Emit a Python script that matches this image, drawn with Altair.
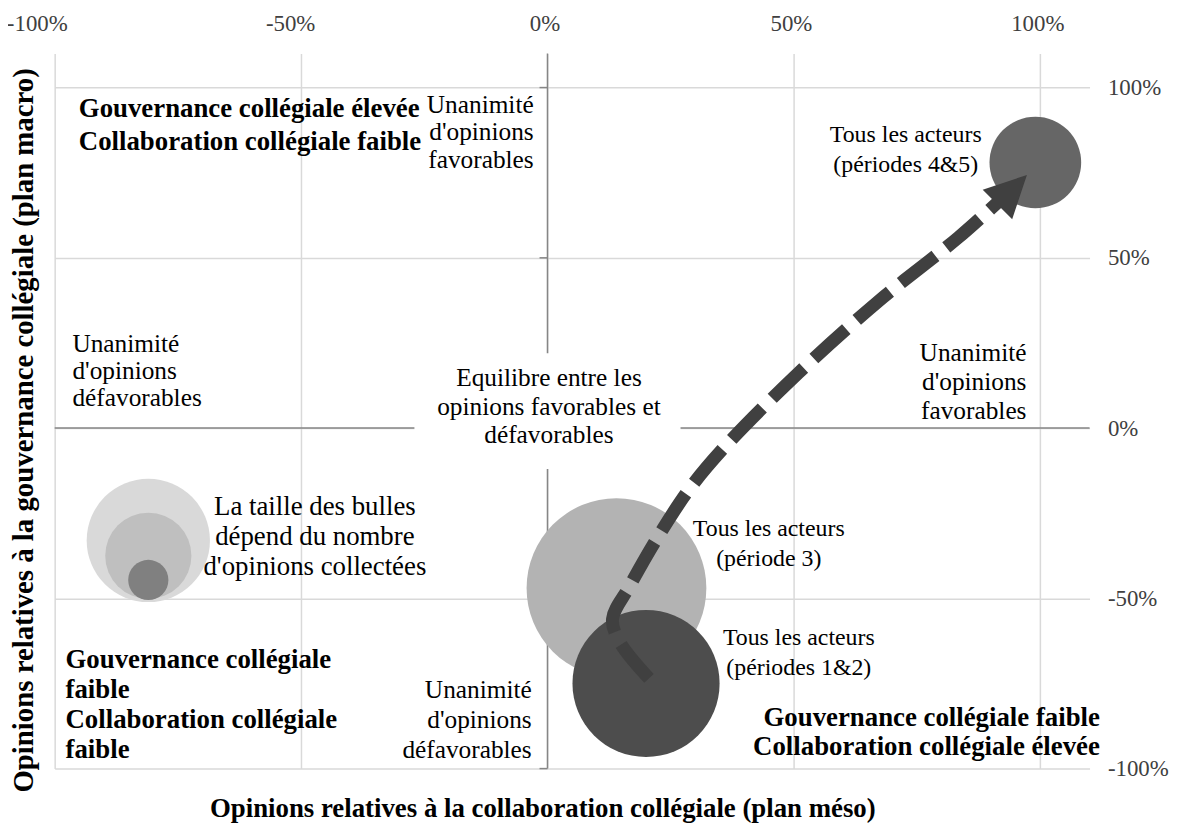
import altair as alt
import pandas as pd

FONT = "Liberation Serif, Times New Roman, Tinos, DejaVu Serif, serif"

# ---------------- data ----------------
x_domain = [-1.0, 1.1]
y_domain = [-1.0, 1.1]
x_ticks = [-1.0, -0.5, 0.0, 0.5, 1.0]
y_ticks = [-1.0, -0.5, 0.0, 0.5, 1.0]

# bubbles: x = collaboration (méso), y = gouvernance (macro), n = nombre relatif d'opinions
bubble_group = ["période 3", "périodes 1&2", "périodes 4&5"]
bubble_x = [0.14, 0.20, 0.99]
bubble_y = [-0.47, -0.75, 0.78]
bubble_n = [100, 67, 26]

# size-legend bubbles
legend_group = ["légende grande", "légende moyenne", "légende petite"]
legend_x = [-0.81, -0.81, -0.81]
legend_y = [-0.33, -0.375, -0.446]
legend_n = [47, 23, 5]

group_colors = ["#b3b3b3", "#4d4d4d", "#666666", "#d9d9d9", "#bfbfbf", "#808080"]

# dashed trajectory arrow
arrow_x = [0.206, 0.146, 0.132, 0.166, 0.221, 0.287, 0.354, 0.510, 0.672, 0.834, 0.915]
arrow_y = [-0.735, -0.627, -0.560, -0.466, -0.327, -0.181, -0.064, 0.163, 0.373, 0.560, 0.665]
head_x = [0.943]
head_y = [0.700]

# white box behind the central annotation [x1, x2, y1, y2]
box_bounds = [-0.27, 0.27, -0.12, 0.22]

# annotations (y = centre of the first line)
tl_text = ["Gouvernance collégiale élevée\nCollaboration collégiale faible"]
tl_x, tl_y = [-0.951], [0.936]

bl_text = ["Gouvernance collégiale\nfaible\nCollaboration collégiale\nfaible"]
bl_x, bl_y = [-0.978], [-0.682]

br_text = ["Gouvernance collégiale faible\nCollaboration collégiale élevée"]
br_x, br_y = [1.121], [-0.851]

fav_top_text = ["Unanimité\nd'opinions\nfavorables"]
fav_top_x, fav_top_y = [-0.028], [0.950]

fav_right_text = ["Unanimité\nd'opinions\nfavorables"]
fav_right_x, fav_right_y = [0.972], [0.219]

defav_left_text = ["Unanimité\nd'opinions\ndéfavorables"]
defav_left_x, defav_left_y = [-0.964], [0.248]

defav_bottom_text = ["Unanimité\nd'opinions\ndéfavorables"]
defav_bottom_x, defav_bottom_y = [-0.032], [-0.770]

equil_text = ["Equilibre entre les\nopinions favorables et\ndéfavorables"]
equil_x, equil_y = [0.003], [0.146]

size_note_text = ["La taille des bulles\ndépend du nombre\nd'opinions collectées"]
size_note_x, size_note_y = [-0.472], [-0.233]

actor_text = ["Tous les acteurs\n(période 3)", "Tous les acteurs\n(périodes 1&2)",
              "Tous les acteurs\n(périodes 4&5)"]
actor_x = [0.449, 0.510, 0.727]
actor_y = [-0.297, -0.618, 0.860]

x_title = "Opinions relatives à la collaboration collégiale (plan méso)"
y_title = "Opinions relatives à la gouvernance collégiale (plan macro)"

# ---------------- chart ----------------
xs = alt.Scale(domain=x_domain, nice=False, zero=False)
ys = alt.Scale(domain=y_domain, nice=False, zero=False)
size_scale = alt.Scale(domain=[0, 100], range=[0, 32761])
color_scale = alt.Scale(domain=bubble_group + legend_group, range=group_colors)
label_expr = "round(datum.value * 100) + '%'"

one = pd.DataFrame({"k": [0]})

vzero = alt.Chart(one).mark_rule(color="#868686", strokeWidth=1.5).encode(
    x=alt.XDatum(0, axis=None, scale=xs))
hzero = alt.Chart(one).mark_rule(color="#868686", strokeWidth=1.5).encode(
    y=alt.YDatum(0, axis=None, scale=ys))

tick_df = pd.DataFrame({"y": y_ticks})
vticks = alt.Chart(tick_df).mark_tick(
    orient="horizontal", size=8, thickness=1.5, xOffset=-4, color="#868686", opacity=1
).encode(
    x=alt.XDatum(0, axis=None, scale=xs),
    y=alt.Y("y:Q", scale=ys, axis=None),
)

box = alt.Chart(one).mark_rect(color="white").encode(
    x=alt.XDatum(box_bounds[0], axis=None, scale=xs),
    x2=alt.X2Datum(box_bounds[1]),
    y=alt.YDatum(box_bounds[2], axis=None, scale=ys),
    y2=alt.Y2Datum(box_bounds[3]),
)

legend_df = pd.DataFrame({"groupe": legend_group, "x": legend_x, "y": legend_y, "n": legend_n})
legend_bubbles = alt.Chart(legend_df).mark_circle(opacity=1).encode(
    x=alt.X("x:Q", scale=xs, axis=alt.Axis(
        orient="bottom", labels=False, ticks=False, domain=False, grid=False,
        title=x_title, titleFont=FONT, titleFontSize=27, titleFontWeight="bold",
        titleColor="black", titlePadding=27, titleX=491)),
    y=alt.Y("y:Q", scale=ys, axis=alt.Axis(
        orient="left", labels=False, ticks=False, domain=False, grid=False,
        title=y_title, titleFont=FONT, titleFontSize=29, titleFontWeight="bold",
        titleColor="black", titlePadding=16, titleY=379)),
    size=alt.Size("n:Q", scale=size_scale, legend=None),
    color=alt.Color("groupe:N", scale=color_scale, legend=None),
)

bubble_df = pd.DataFrame({"groupe": bubble_group, "x": bubble_x, "y": bubble_y, "n": bubble_n})
bubbles = alt.Chart(bubble_df).mark_circle(opacity=1).encode(
    x=alt.X("x:Q", scale=xs, axis=alt.Axis(
        orient="top", values=x_ticks, labelExpr=label_expr, grid=True,
        gridColor="#d9d9d9", gridWidth=1.5, domain=False, ticks=False,
        labelFont=FONT, labelFontSize=23, labelColor="#404040", labelPadding=18,
        labelFlush=False, title=None,
        labelOffset={"condition": [{"test": "datum.value < -0.75", "value": -18},
                                   {"test": "datum.value < -0.25", "value": -11}],
                     "value": -3})),
    y=alt.Y("y:Q", scale=ys, axis=alt.Axis(
        orient="right", values=y_ticks, labelExpr=label_expr, grid=True,
        gridColor="#d9d9d9", gridWidth=1.5, domain=False, ticks=False,
        labelFont=FONT, labelFontSize=23, labelColor="#404040", labelPadding=18,
        labelAlign="left", labelFlush=False, title=None)),
    size=alt.Size("n:Q", scale=size_scale, legend=None),
    color=alt.Color("groupe:N", scale=color_scale, legend=None),
)


def txt(texts, xv, yv, align="center", size=25, weight="normal", lh=29):
    df = pd.DataFrame({"t": texts, "x": xv, "y": yv})
    return alt.Chart(df).mark_text(
        font=FONT, fontSize=size, fontWeight=weight, align=align, baseline="middle",
        lineBreak="\n", lineHeight=lh, color="black",
    ).encode(
        x=alt.X("x:Q", scale=xs, axis=None),
        y=alt.Y("y:Q", scale=ys, axis=None),
        text="t:N",
    )


texts = [
    txt(tl_text, tl_x, tl_y, "left", 27, "bold", 33),
    txt(bl_text, bl_x, bl_y, "left", 27, "bold", 30),
    txt(br_text, br_x, br_y, "right", 27, "bold", 29),
    txt(fav_top_text, fav_top_x, fav_top_y, "right", 25.5, "normal", 28),
    txt(fav_right_text, fav_right_x, fav_right_y, "right", 25.5, "normal", 29),
    txt(defav_left_text, defav_left_x, defav_left_y, "left", 25.5, "normal", 27.5),
    txt(defav_bottom_text, defav_bottom_x, defav_bottom_y, "right", 25.5, "normal", 30),
    txt(equil_text, equil_x, equil_y, "center", 25.5, "normal", 28.5),
    txt(size_note_text, size_note_x, size_note_y, "center", 27, "normal", 30),
    txt(actor_text, actor_x, actor_y, "center", 24, "normal", 30),
]

arrow_df = pd.DataFrame({"i": list(range(len(arrow_x))), "x": arrow_x, "y": arrow_y})
arrow = alt.Chart(arrow_df).mark_line(
    color="#404040", strokeWidth=13, strokeDash=[44, 14], strokeCap="butt",
    interpolate="catmull-rom",
).encode(
    x=alt.X("x:Q", scale=xs, axis=None),
    y=alt.Y("y:Q", scale=ys, axis=None),
    order=alt.Order("i:Q"),
)

head_df = pd.DataFrame({"x": head_x, "y": head_y})
head = alt.Chart(head_df).mark_point(
    shape="M0,-1L1,1L-1,1Z", size=1764, angle=45, filled=True,
    color="#404040", opacity=1, strokeWidth=0,
).encode(
    x=alt.X("x:Q", scale=xs, axis=None),
    y=alt.Y("y:Q", scale=ys, axis=None),
)

chart = alt.layer(
    vzero, hzero, vticks, box, legend_bubbles, bubbles, *texts, arrow, head
).resolve_axis(x="independent", y="independent").properties(
    width=1042, height=720,
    autosize=alt.AutoSizeParams(type="none"),
    padding={"left": 47, "top": 43, "right": 81, "bottom": 58},
    background="white",
).configure_view(stroke=None)

chart.save("out.html", embed_options={"renderer": "svg", "actions": False})
